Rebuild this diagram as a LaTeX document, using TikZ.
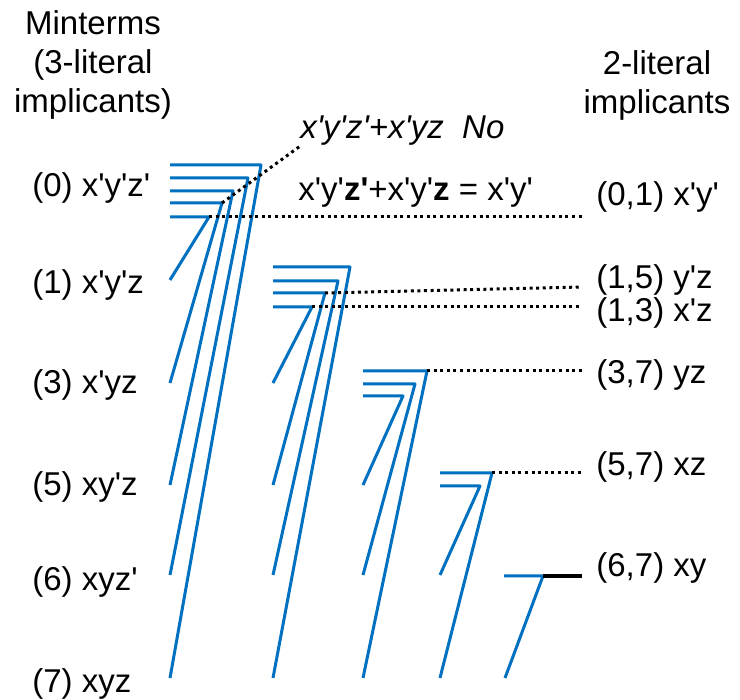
\documentclass[tikz,border=0pt]{standalone}
\usepackage{fontspec}
\setmainfont{Liberation Sans}[Ligatures=TeXOff]
\definecolor{impblue}{RGB}{0,112,192}
\begin{document}
\begin{tikzpicture}[x=0.5pt,y=-0.5pt, line join=round]
	\tikzset{txt/.style={font=\fontsize{16.5}{19.5}\selectfont, inner sep=0pt},
		imp/.style={impblue, line width=1.5pt},
		pair/.style={black, line width=1.5pt, dash pattern=on 1.5pt off 1.8pt}}
	\useasboundingbox (0,0) rectangle (740,700);
	% headings
	\node[txt,align=center] (hmin) at (93,65) {Minterms\\(3-literal\\implicants)};
	\node[txt,align=center] (hpair) at (657,85) {2-literal\\implicants};
	% minterms
	\node[txt,anchor=west] (m0) at (32,188) {(0) x'y'z'};
	\node[txt,anchor=west] (m1) at (32,285) {(1) x'y'z};
	\node[txt,anchor=west] (m3) at (32,385) {(3) x'yz};
	\node[txt,anchor=west] (m5) at (32,487) {(5) xy'z};
	\node[txt,anchor=west] (m6) at (32,582) {(6) xyz'};
	\node[txt,anchor=west] (m7) at (32,684) {(7) xyz};
	% 2-literal implicants
	\node[txt,anchor=west] (r01) at (596,197) {(0,1) x'y'};
	\node[txt,anchor=west] (r15) at (596,280) {(1,5) y'z};
	\node[txt,anchor=west] (r13) at (596,313) {(1,3) x'z};
	\node[txt,anchor=west] (r37) at (596,375) {(3,7) yz};
	\node[txt,anchor=west] (r57) at (596,467) {(5,7) xz};
	\node[txt,anchor=west] (r67) at (596,568) {(6,7) xy};
	% comparisons
	\node[txt,anchor=west] (no) at (300,131) {\itshape x'y'z'+x'yz~~No};
	\node[txt,anchor=west] (yes) at (298,193) {x'y'\textbf{z'}+x'y'\textbf{z} = x'y'};
	% combining lines
	\foreach \n/\yh/\xc/\yb in {07/165/261/678,06/178/248/575,05/191/233/485,03/203/222/383,01/217/209/280}
		\draw[imp] (170,\yh) -- (\xc,\yh) coordinate (c\n) -- (170,\yb);
	\foreach \n/\yh/\xc/\yb in {17/267/350/678,16/281/338/575,15/293/325/485,13/307/312/383}
		\draw[imp] (273,\yh) -- (\xc,\yh) coordinate (c\n) -- (273,\yb);
	\foreach \n/\yh/\xc/\yb in {37/371/427/678,36/384/415/575,35/396/403/485}
		\draw[imp] (363,\yh) -- (\xc,\yh) coordinate (c\n) -- (363,\yb);
	\foreach \n/\yh/\xc/\yb in {57/473/492/678,56/486/480/575}
		\draw[imp] (440,\yh) -- (\xc,\yh) coordinate (c\n) -- (440,\yb);
	\draw[imp] (504,576) -- (543,576) coordinate (c67) -- (505,678);
	% results
	\coordinate (e01) at (582,217);
	\coordinate (e15) at (582,287);
	\coordinate (e13) at (582,307);
	\coordinate (e37) at (582,371);
	\coordinate (e57) at (582,473);
	\coordinate (e67) at (582,576);
	\draw[pair] (c03) -- (no.south west);
	\draw[pair] (c01) -- (e01);
	\draw[pair] (c15) -- (e15);
	\draw[pair] (c13) -- (e13);
	\draw[pair] (c37) -- (e37);
	\draw[pair] (c57) -- (e57);
	\draw[black, line width=2pt] (c67) -- (e67);
\end{tikzpicture}
\end{document}
